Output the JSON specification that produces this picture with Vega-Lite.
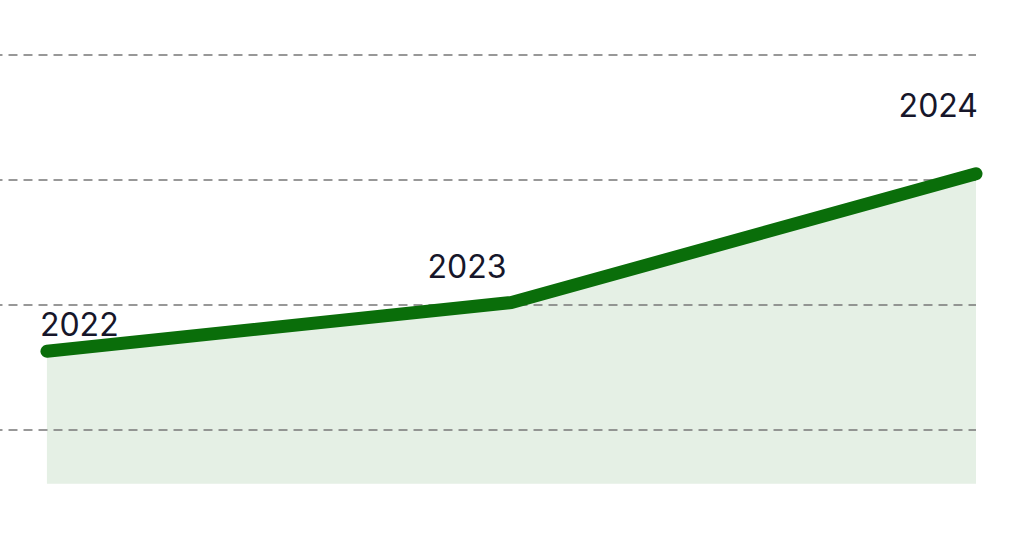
{
  "$schema": "https://vega.github.io/schema/vega-lite/v6.json",
  "width": 1022,
  "height": 534,
  "autosize": {"type": "none"},
  "padding": 0,
  "view": {"stroke": null},
  "datasets": {
    "series": [
      {"year": 2022, "value": 1.63, "label": "2022"},
      {"year": 2023, "value": 2.02, "label": "2023"},
      {"year": 2024, "value": 3.05, "label": "2024"}
    ],
    "grid": [
      {"g": 1, "x0": 2021.885, "x1": 2024.0},
      {"g": 2, "x0": 2021.885, "x1": 2024.0},
      {"g": 3, "x0": 2021.885, "x1": 2024.0},
      {"g": 4, "x0": 2021.885, "x1": 2024.0}
    ]
  },
  "layer": [
    {
      "data": {"name": "series"},
      "mark": {"type": "area", "color": "#e5f0e5"},
      "encoding": {
        "x": {"field": "year", "type": "quantitative", "scale": {"domain": [2021.899, 2024.099], "nice": false, "zero": false}, "axis": null},
        "y": {"field": "value", "type": "quantitative", "scale": {"domain": [0.168, 4.44], "nice": false, "zero": false}, "axis": null},
        "y2": {"datum": 0.57}
      }
    },
    {
      "data": {"name": "grid"},
      "mark": {"type": "rule", "color": "#777777", "strokeWidth": 1.3, "strokeDash": [9, 6]},
      "encoding": {
        "x": {"field": "x0", "type": "quantitative", "scale": {"domain": [2021.899, 2024.099], "nice": false, "zero": false}, "axis": null},
        "x2": {"field": "x1"},
        "y": {"field": "g", "type": "quantitative"}
      }
    },
    {
      "data": {"name": "series"},
      "mark": {"type": "line", "color": "#0a6e0a", "strokeWidth": 13, "strokeCap": "round", "strokeJoin": "round"},
      "encoding": {
        "x": {"field": "year", "type": "quantitative"},
        "y": {"field": "value", "type": "quantitative"}
      }
    },
    {
      "data": {"name": "series"},
      "transform": [{"filter": "datum.year == 2022"}],
      "mark": {"type": "text", "font": "Inter", "fontSize": 32, "color": "#16162a", "align": "left", "dx": -7, "dy": -25},
      "encoding": {
        "x": {"field": "year", "type": "quantitative"},
        "y": {"field": "value", "type": "quantitative"},
        "text": {"field": "label"}
      }
    },
    {
      "data": {"name": "series"},
      "transform": [{"filter": "datum.year == 2023"}],
      "mark": {"type": "text", "font": "Inter", "fontSize": 32, "color": "#16162a", "align": "right", "dx": -5, "dy": -35},
      "encoding": {
        "x": {"field": "year", "type": "quantitative"},
        "y": {"field": "value", "type": "quantitative"},
        "text": {"field": "label"}
      }
    },
    {
      "data": {"name": "series"},
      "transform": [{"filter": "datum.year == 2024"}],
      "mark": {"type": "text", "font": "Inter", "fontSize": 32, "color": "#16162a", "align": "right", "dx": 2, "dy": -67},
      "encoding": {
        "x": {"field": "year", "type": "quantitative"},
        "y": {"field": "value", "type": "quantitative"},
        "text": {"field": "label"}
      }
    }
  ]
}
